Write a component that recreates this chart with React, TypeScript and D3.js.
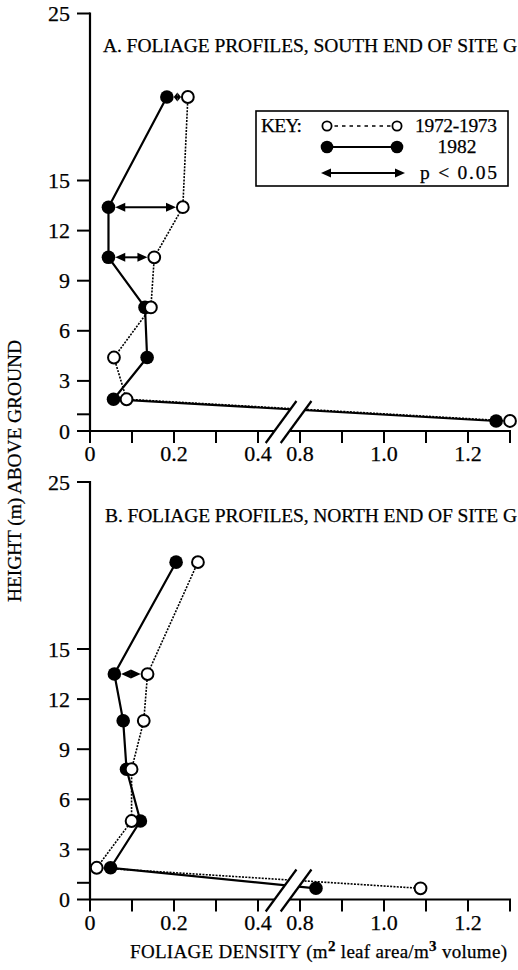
import React from "react";
import * as d3 from "d3";

// ---------- data ----------
const heightsA = [20.0, 13.4, 10.4, 7.4, 4.4, 1.9, 0.6];
const old7273A = [0.233, 0.221, 0.153, 0.145, 0.057, 0.087, 1.3];
const new1982A = [0.183, 0.044, 0.044, 0.131, 0.136, 0.056, 1.267];
const sigHeightsA = [20.0, 13.4, 10.4];

const heightsB = [20.2, 13.5, 10.7, 7.8, 4.7, 1.9, 0.67];
const old7273B = [0.257, 0.137, 0.128, 0.099, 0.099, 0.016, 1.087];
const new1982B = [0.205, 0.058, 0.079, 0.087, 0.12, 0.049, 0.838];
const sigHeightsB = [13.5];

const xTicks = [0, 0.1, 0.2, 0.3, 0.4, 0.8, 0.9, 1.0, 1.1, 1.2, 1.3];
const xTickLabels = ["0", "", "0.2", "", "0.4", "0.8", "", "1.0", "", "1.2", ""];
const yTicks = [0, 1, 3, 6, 9, 12, 15, 25];
const yTickLabels = ["0", "", "3", "6", "9", "12", "15", "25"];

const titleA = "A. FOLIAGE PROFILES, SOUTH END OF SITE G";
const titleB = "B. FOLIAGE PROFILES, NORTH END OF SITE G";

const FONT = "'Liberation Serif', 'Times New Roman', serif";

const xScale = d3
  .scaleLinear()
  .domain([0, 0.4, 0.8, 1.3])
  .range([90, 258, 300, 510]);

function Arrow({ x1, x2, y, head = 10, half = 4.5 }: any) {
  const dir = x2 > x1 ? 1 : -1;
  let h = head;
  const len = Math.abs(x2 - x1);
  if (len < 2 * head + 2) h = Math.max(len / 2, 3);
  return (
    <g>
      <line x1={x1 + dir * h * 0.6} x2={x2 - dir * h * 0.6} y1={y} y2={y} stroke="#000" strokeWidth={2} />
      <path d={`M${x1},${y} L${x1 + dir * h},${y - half} L${x1 + dir * h},${y + half} Z`} fill="#000" />
      <path d={`M${x2},${y} L${x2 - dir * h},${y - half} L${x2 - dir * h},${y + half} Z`} fill="#000" />
    </g>
  );
}

function Panel({ y0, heights, oldV, newV, sig, title, titleY }: any) {
  const yScale = d3.scaleLinear().domain([0, 25]).range([y0, y0 - 417.5]);
  const line = d3
    .line<[number, number]>()
    .x((d) => xScale(d[0]))
    .y((d) => yScale(d[1]));
  const oldPts: [number, number][] = oldV.map((v: number, i: number) => [v, heights[i]]);
  const newPts: [number, number][] = newV.map((v: number, i: number) => [v, heights[i]]);
  const r = 6.8;
  const bx = 282;
  const top = y0 - 30;
  const bot = y0 + 12;
  const slope = 30 / 41;
  const off = 7.5;
  const xAt = (cx: number, y: number) => cx + (y0 - y) * slope;
  const s1 = [xAt(bx - off, bot), bot, xAt(bx - off, top), top];
  const s2 = [xAt(bx + off, bot), bot, xAt(bx + off, top), top];
  return (
    <g>
      <text x={titleY.x} y={titleY.y} fontSize={19.5} fontFamily={FONT} textLength={titleY.len} lengthAdjust="spacing" stroke="#000" strokeWidth={0.25}>
        {title}
      </text>
      <line x1={90} x2={90} y1={yScale(25) - 1} y2={y0 + 1} stroke="#000" strokeWidth={2.2} />
      <line x1={89} x2={xScale(1.3) + 1} y1={y0} y2={y0} stroke="#000" strokeWidth={2.2} />
      {yTicks.map((t, i) => (
        <g key={"y" + t}>
          <line x1={77} x2={90} y1={yScale(t)} y2={yScale(t)} stroke="#000" strokeWidth={2} />
          {yTickLabels[i] && (
            <text x={70} y={yScale(t) + 7.5} textAnchor="end" fontSize={22} fontFamily={FONT} stroke="#000" strokeWidth={0.25}>
              {yTickLabels[i]}
            </text>
          )}
        </g>
      ))}
      {xTicks.map((t, i) => (
        <g key={"x" + t}>
          <line x1={xScale(t)} x2={xScale(t)} y1={y0} y2={y0 + 12} stroke="#000" strokeWidth={2} />
          {xTickLabels[i] && (
            <text x={xScale(t)} y={y0 + 30} textAnchor="middle" fontSize={22} fontFamily={FONT} stroke="#000" strokeWidth={0.25}>
              {xTickLabels[i]}
            </text>
          )}
        </g>
      ))}
      <path d={line(oldPts) || ""} fill="none" stroke="#000" strokeWidth={1.6} strokeDasharray="2,1.3" />
      <path d={line(newPts) || ""} fill="none" stroke="#000" strokeWidth={2.2} />
      <polygon points={`${s1[0]},${s1[1]} ${s1[2]},${s1[3]} ${s2[2]},${s2[3]} ${s2[0]},${s2[1]}`} fill="#fff" />
      <line x1={s1[0]} y1={s1[1]} x2={s1[2]} y2={s1[3]} stroke="#000" strokeWidth={2.2} />
      <line x1={s2[0]} y1={s2[1]} x2={s2[2]} y2={s2[3]} stroke="#000" strokeWidth={2.2} />
      {sig.map((h: number) => {
        const i = heights.indexOf(h);
        const a = xScale(newV[i]);
        const b = xScale(oldV[i]);
        return <Arrow key={"s" + h} x1={a + r} x2={b - r} y={yScale(h)} />;
      })}
      {newPts.map((p, i) => (
        <circle key={"n" + i} cx={xScale(p[0])} cy={yScale(p[1])} r={r} fill="#000" />
      ))}
      {oldPts.map((p, i) => (
        <circle key={"o" + i} cx={xScale(p[0])} cy={yScale(p[1])} r={r - 0.9} fill="#fff" stroke="#000" strokeWidth={2} />
      ))}
    </g>
  );
}

export default function App() {
  return (
    <svg
      width={518}
      height={970}
      viewBox="0 0 518 970"
      style={{ position: "absolute", left: 0, top: 0, background: "#fff" }}
    >
      <rect width={518} height={970} fill="#fff" />
      <Panel
        y0={431}
        heights={heightsA}
        oldV={old7273A}
        newV={new1982A}
        sig={sigHeightsA}
        title={titleA}
        titleY={{ x: 103, y: 52, len: 414 }}
      />
      <Panel
        y0={899.5}
        heights={heightsB}
        oldV={old7273B}
        newV={new1982B}
        sig={sigHeightsB}
        title={titleB}
        titleY={{ x: 105, y: 522, len: 412 }}
      />
      <g fontFamily={FONT} fontSize={19.5} stroke="none">
        <rect x={256} y={111} width={252} height={75} fill="#fff" stroke="#000" strokeWidth={1.6} />
        <text x={261} y={132} textLength={41} lengthAdjust="spacing" stroke="#000" strokeWidth={0.25}>KEY:</text>
        <line x1={327} x2={397} y1={126} y2={126} stroke="#000" strokeWidth={1.3} strokeDasharray="3.5,4" />
        <circle cx={327} cy={126} r={4.6} fill="#fff" stroke="#000" strokeWidth={1.8} />
        <circle cx={397} cy={126} r={4.6} fill="#fff" stroke="#000" strokeWidth={1.8} />
        <text x={415} y={132} textLength={82} lengthAdjust="spacing" stroke="#000" strokeWidth={0.25}>1972-1973</text>
        <line x1={327} x2={397} y1={147} y2={147} stroke="#000" strokeWidth={2} />
        <circle cx={327} cy={147} r={6.3} fill="#000" />
        <circle cx={397} cy={147} r={6.3} fill="#000" />
        <text x={457} y={153} textAnchor="middle" stroke="#000" strokeWidth={0.25}>1982</text>
        <Arrow x1={321} x2={405} y={173} />
        <text x={420} y={179} textLength={77} lengthAdjust="spacing" stroke="#000" strokeWidth={0.25}>{"p  <  0.05"}</text>
      </g>
      <text
        transform="translate(21,471) rotate(-90)"
        textAnchor="middle"
        fontSize={19.5}
        fontFamily={FONT}
        textLength={262}
        lengthAdjust="spacing"
        stroke="#000"
        strokeWidth={0.25}
      >
        HEIGHT (m) ABOVE GROUND
      </text>
      <text x={130} y={958} fontSize={19} fontFamily={FONT} textLength={377} lengthAdjust="spacing" stroke="#000" strokeWidth={0.25}>
        <tspan>FOLIAGE DENSITY  (m</tspan>
        <tspan dy={-7} fontSize={15} fontWeight="bold">2</tspan>
        <tspan dy={7}> leaf area/m</tspan>
        <tspan dy={-7} fontSize={15} fontWeight="bold">3</tspan>
        <tspan dy={7}>  volume)</tspan>
      </text>
    </svg>
  );
}
